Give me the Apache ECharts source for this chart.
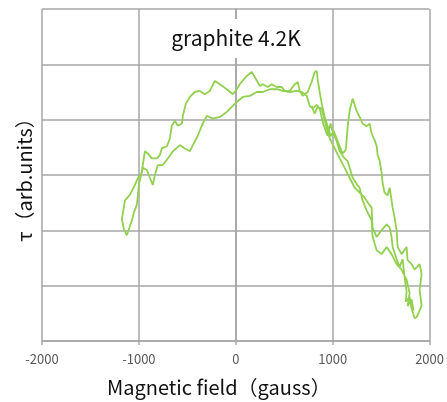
<!DOCTYPE html>
<html>
<head>
<meta charset="utf-8">
<script src="https://cdn.jsdelivr.net/npm/echarts@6/dist/echarts.min.js"></script>
<style>
html,body{margin:0;padding:0;background:#fff;}
#chart{width:447px;height:402px;}
</style>
</head>
<body>
<div id="chart"></div>
<script>
// Sweep A: descending branch on the right side (middle curve)
var fieldA = [783, 814, 845, 887, 918, 969, 1021, 1072, 1124, 1175, 1227, 1278, 1330, 1371, 1402, 1412, 1454, 1505, 1557, 1588, 1608, 1619, 1660, 1691, 1722, 1742, 1763, 1753, 1794, 1814, 1845, 1866];
var tauA = [4.25, 4.11, 4.23, 4.20, 3.98, 3.66, 3.48, 3.30, 3.13, 2.95, 2.77, 2.68, 2.59, 2.48, 2.41, 2.05, 1.88, 2.00, 2.11, 2.05, 1.88, 1.70, 1.48, 1.34, 1.48, 1.16, 0.89, 0.71, 0.80, 0.59, 0.41, 0.43];

// Sweep B: returning branch (rightmost curve up, then upper-left branch)
var fieldB = [1918, 1897, 1918, 1897, 1845, 1814, 1773, 1763, 1711, 1670, 1660, 1639, 1619, 1608, 1588, 1567, 1536, 1515, 1505, 1484, 1464, 1454, 1433, 1402, 1381, 1350, 1309, 1278, 1247, 1206, 1175, 1155, 1144, 1134, 1103, 1072, 1041, 1010, 979, 948, 918, 887, 866, 845, 835, 814, 783, 742, 691, 660, 639, 608, 557, 505, 474, 423, 371, 330, 278, 247, 196, 165, 113, 41, 0, -31, -93, -165, -216, -268, -320, -371, -423, -474, -515, -546, -557, -598, -629, -660, -680, -711, -763, -784, -814, -866, -907, -938, -969, -1000, -1021, -1052, -1072, -1103, -1124, -1155, -1175];
var tauB = [0.63, 0.93, 1.21, 1.39, 1.29, 1.39, 1.46, 1.70, 1.57, 1.70, 2.00, 2.23, 2.41, 2.54, 2.77, 2.63, 2.68, 2.86, 3.04, 3.27, 3.36, 3.52, 3.63, 3.75, 3.93, 3.88, 3.93, 4.05, 4.16, 4.38, 4.16, 3.88, 3.63, 3.45, 3.39, 3.52, 3.66, 3.80, 3.70, 3.88, 4.05, 4.29, 4.50, 4.73, 4.88, 4.86, 4.68, 4.50, 4.43, 4.52, 4.68, 4.64, 4.52, 4.52, 4.59, 4.59, 4.64, 4.59, 4.64, 4.61, 4.77, 4.86, 4.79, 4.64, 4.52, 4.46, 4.55, 4.64, 4.70, 4.52, 4.46, 4.52, 4.50, 4.41, 4.29, 4.07, 3.93, 3.89, 3.98, 3.89, 3.66, 3.52, 3.48, 3.36, 3.30, 3.30, 3.39, 3.43, 3.07, 2.82, 2.46, 2.32, 2.18, 2.02, 1.91, 2.02, 2.20];

// Sweep C: lower-left branch up, then down the right side (left curve)
var fieldC = [-1144, -1093, -1041, -1010, -969, -959, -918, -887, -856, -835, -804, -753, -701, -649, -577, -526, -474, -443, -392, -351, -299, -237, -165, -93, -31, 10, 72, 144, 216, 278, 351, 423, 485, 557, 629, 680, 732, 763, 794, 835, 866, 897, 928, 948, 979, 999, 1041, 1072, 1124, 1155, 1175, 1206, 1247, 1278, 1309, 1350, 1402, 1412, 1454, 1505, 1557, 1608, 1660, 1711, 1763, 1794, 1773, 1814, 1835];
var tauC = [2.54, 2.64, 2.82, 2.95, 3.04, 3.13, 3.09, 2.95, 2.82, 3.00, 3.18, 3.18, 3.30, 3.43, 3.54, 3.48, 3.43, 3.54, 3.71, 3.89, 4.07, 4.02, 4.05, 4.14, 4.25, 4.32, 4.41, 4.43, 4.50, 4.50, 4.55, 4.55, 4.52, 4.50, 4.52, 4.50, 4.43, 4.25, 4.20, 4.27, 4.20, 3.96, 3.79, 3.71, 3.93, 3.79, 3.61, 3.43, 3.30, 3.25, 3.13, 2.95, 2.84, 2.77, 2.54, 2.36, 2.18, 1.88, 1.64, 1.57, 1.70, 1.57, 1.39, 1.29, 1.11, 0.86, 0.63, 0.75, 0.55];

var xTicks = [-2000, -1000, 0, 1000, 2000];
var titleText = 'graphite 4.2K';
var xName = 'Magnetic field（gauss）';
var yName = 'τ（arb.units）';

function pairs(xs, ys) {
  var out = [];
  for (var i = 0; i < xs.length; i++) out.push([xs[i], ys[i]]);
  return out;
}
var loopData = pairs(fieldA, tauA).concat(pairs(fieldB, tauB), pairs(fieldC, tauC));

var gridColor = '#a6a6a6';
var font = '"Noto Sans CJK JP", "Noto Sans", sans-serif';

var chart = echarts.init(document.getElementById('chart'), null, {renderer: 'canvas'});
chart.setOption({
  animation: false,
  backgroundColor: '#ffffff',
  title: {
    text: titleText,
    left: 224,
    textAlign: 'center',
    top: 19,
    padding: [9, 12, 9, 12],
    backgroundColor: '#ffffff',
    textStyle: {fontFamily: font, fontSize: 21, fontWeight: 'normal', color: '#111111'}
  },
  grid: {left: 42, right: 17, top: 9, bottom: 57},
  xAxis: {
    type: 'value',
    min: xTicks[0],
    max: xTicks[xTicks.length - 1],
    interval: 1000,
    name: xName,
    nameLocation: 'middle',
    nameGap: 36,
    nameTextStyle: {fontFamily: font, fontSize: 20, color: '#111111', padding: [0, 34, 0, 0]},
    axisLine: {show: true, lineStyle: {color: gridColor, width: 1.5}},
    axisTick: {show: true, length: 4, lineStyle: {color: gridColor, width: 1.5}},
    axisLabel: {fontFamily: font, fontSize: 13, color: '#595959', margin: 12,
      formatter: function (v) { return String(v); }},
    splitLine: {show: true, lineStyle: {color: gridColor, width: 1.5}}
  },
  yAxis: {
    type: 'value',
    min: 0,
    max: 6,
    interval: 1,
    name: yName,
    nameLocation: 'middle',
    nameGap: 8,
    nameTextStyle: {fontFamily: font, fontSize: 20, color: '#111111'},
    axisLine: {show: true, lineStyle: {color: gridColor, width: 1.5}},
    axisTick: {show: false},
    axisLabel: {show: false},
    splitLine: {show: true, lineStyle: {color: gridColor, width: 1.5}}
  },
  series: [{
    type: 'line',
    data: loopData,
    showSymbol: false,
    smooth: false,
    lineStyle: {color: '#92D050', width: 1.8},
    z: 1
  }]
});
</script>
</body>
</html>
